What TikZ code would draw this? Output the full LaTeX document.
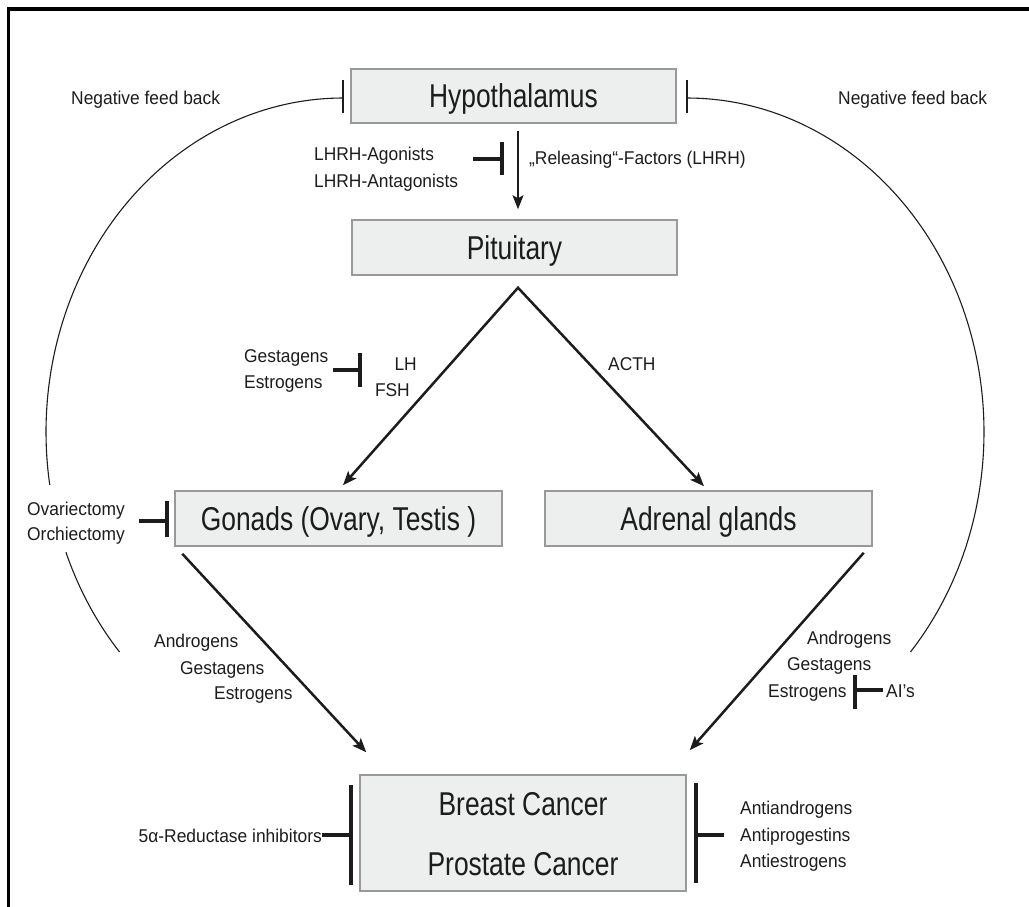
\documentclass[tikz,border=0pt]{standalone}
\usepackage{fontspec}
\usepackage{graphicx}
\setmainfont{Liberation Sans}
\usetikzlibrary{arrows.meta}
\definecolor{boxfill}{HTML}{EDEEEE}
\definecolor{boxline}{HTML}{999999}
\definecolor{ink}{HTML}{1C1C1C}
\newcommand\bigtxt[1]{\scalebox{0.8}[1]{\fontsize{33}{38}\selectfont #1}}
\newcommand\smtxt[1]{\scalebox{0.94}[1]{\fontsize{18.5}{22}\selectfont #1}}
\begin{document}
\begin{tikzpicture}[x=1pt,y=-1pt,
 box/.style={draw=boxline,line width=1.5pt,fill=boxfill,inner sep=0pt,text=ink,text height=23pt,text depth=0pt},
 lbl/.style={inner sep=0pt,text=ink},
 tip/.style={},
 arr/.style={draw=ink,line width=2.5pt,-{Stealth[length=14pt,width=11pt,inset=3pt]}},
 arr2/.style={draw=ink,line width=2.5pt,line join=miter,{Stealth[length=14pt,width=11pt,inset=3pt]}-{Stealth[length=14pt,width=11pt,inset=3pt]}},
 inh/.style={draw=ink,line width=4.5pt},
 fbar/.style={draw=ink,line width=1.5pt},
 fb/.style={draw=ink,line width=1.1pt},
 frame/.style={draw=black,line width=3.3pt}]
\useasboundingbox (0,0) rectangle (1029,907);
\draw[frame] (8.8,9) -- (1029,9);
\draw[frame] (8.8,7.4) -- (8.8,907);

% boxes
\node[box,minimum width=325pt,minimum height=54pt] (hyp) at (513.5,96) {\bigtxt{Hypothalamus}};
\node[box,minimum width=325pt,minimum height=55pt] (pit) at (514.5,247.5) {\bigtxt{Pituitary}};
\node[box,minimum width=327pt,minimum height=55pt] (gon) at (338.5,518.5) {\bigtxt{Gonads (Ovary, Testis )}};
\node[box,minimum width=327pt,minimum height=55pt] (adr) at (708.5,518.5) {\bigtxt{Adrenal glands}};
\node[box,minimum width=326pt,minimum height=116pt] (can) at (523,833) {};
\node[lbl,anchor=base] (bc) at (523,815) {\bigtxt{Breast Cancer}};
\node[lbl,anchor=base] (pc) at (523,875) {\bigtxt{Prostate Cancer}};

% main arrows
\coordinate (h2p0) at ([xshift=4.5pt,yshift=-7pt]hyp.south);
\coordinate (h2p1) at ([xshift=3.5pt,yshift=10pt]pit.north);
\draw[arr,line width=2.2pt] (h2p0) -- (h2p1);
\coordinate (apex) at ([xshift=3.5pt,yshift=-12pt]pit.south);
\coordinate (gontip) at ([xshift=4.5pt,yshift=5pt]gon.north);
\coordinate (adrtip) at ([xshift=-4.5pt,yshift=4pt]adr.north);
\draw[arr2] (gontip) -- (apex) -- (adrtip);
\coordinate (g0) at ([xshift=8pt,yshift=-7pt]gon.south west);
\coordinate (g1) at ([xshift=7pt,yshift=22pt]can.north west);
\draw[arr] (g0) -- (g1);
\coordinate (a0) at ([xshift=-9pt,yshift=-6pt]adr.south east);
\coordinate (a1) at ([xshift=3pt,yshift=24pt]can.north east);
\draw[arr] (a0) -- (a1);

% labels
\node[lbl,anchor=base west] (nfl) at (71,104) {\smtxt{Negative feed back}};
\node[lbl,anchor=base west] (nfr) at (838,104) {\smtxt{Negative feed back}};
\node[lbl,anchor=base west] (ago) at (314,160) {\smtxt{LHRH-Agonists}};
\node[lbl,anchor=base west] (anta) at (314,187) {\smtxt{LHRH-Antagonists}};
\node[lbl,anchor=base west] (rel) at (529,164) {\smtxt{„Releasing“-Factors (LHRH)}};
\node[lbl,anchor=base west] (ges1) at (244,362) {\smtxt{Gestagens}};
\node[lbl,anchor=base west] (est1) at (244,388) {\smtxt{Estrogens}};
\node[lbl,anchor=base east] (lh) at (417,370) {\smtxt{LH}};
\node[lbl,anchor=base east] (fsh) at (410,396) {\smtxt{FSH}};
\node[lbl,anchor=base west] (acth) at (608,370) {\smtxt{ACTH}};
\node[lbl,anchor=base west] (ova) at (27,515) {\smtxt{Ovariectomy}};
\node[lbl,anchor=base west] (orc) at (27,540) {\smtxt{Orchiectomy}};
\node[lbl,anchor=base west] (and2) at (154,647) {\smtxt{Androgens}};
\node[lbl,anchor=base west] (ges2) at (180,674) {\smtxt{Gestagens}};
\node[lbl,anchor=base west] (est2) at (214,699) {\smtxt{Estrogens}};
\node[lbl,anchor=base west] (and3) at (807,644) {\smtxt{Androgens}};
\node[lbl,anchor=base west] (ges3) at (787,670) {\smtxt{Gestagens}};
\node[lbl,anchor=base west] (est3) at (768,697) {\smtxt{Estrogens}};
\node[lbl,anchor=base west] (ais) at (886,697) {\smtxt{AI's}};
\node[lbl,anchor=base east] (red) at (322,842) {\smtxt{5α-Reductase inhibitors}};
\node[lbl,anchor=base west] (aan) at (740,814) {\smtxt{Antiandrogens}};
\node[lbl,anchor=base west] (apr) at (740,841) {\smtxt{Antiprogestins}};
\node[lbl,anchor=base west] (aes) at (740,867) {\smtxt{Antiestrogens}};

% inhibitor marks
\coordinate (i1s) at (473,159); \coordinate (i1b) at (502,159);
\draw[inh] (i1s) -- (i1b);
\draw[inh] (502,142) -- (502,175);
\coordinate (i2s) at (333,370); \coordinate (i2b) at (360,370);
\draw[inh] (i2s) -- (i2b);
\draw[inh] (360,353) -- (360,387);
\coordinate (i3s) at (139,521); \coordinate (i3b) at (167,521);
\draw[inh] (i3s) -- (i3b);
\draw[inh] (167,501) -- (167,537);
\coordinate (i4s) at (883,690); \coordinate (i4b) at (855,690);
\draw[inh] (i4s) -- (i4b);
\draw[inh] (855,675) -- (855,709);
\coordinate (i5s) at (322,835); \coordinate (i5b) at (351,835);
\draw[inh] (i5s) -- (i5b);
\draw[inh] (351,785) -- (351,885);
\coordinate (i6s) at (724,835); \coordinate (i6b) at (696,835);
\draw[inh] (i6s) -- (i6b);
\draw[inh] (696,783) -- (696,883);

% feedback
\draw[fbar] (343,80) -- (343,113);
\draw[fbar] (687,80) -- (687,113);
\draw[fb] plot[domain=90:189.1,samples=80,smooth] ({343+297*cos(\x)},{432-334*sin(\x)});
\draw[fb] plot[domain=201.1:221.2,samples=30,smooth] ({343+297*cos(\x)},{432-334*sin(\x)});
\draw[fb] plot[domain=-41.2:90,samples=100,smooth] ({687+297*cos(\x)},{432-334*sin(\x)});
\end{tikzpicture}
\end{document}
